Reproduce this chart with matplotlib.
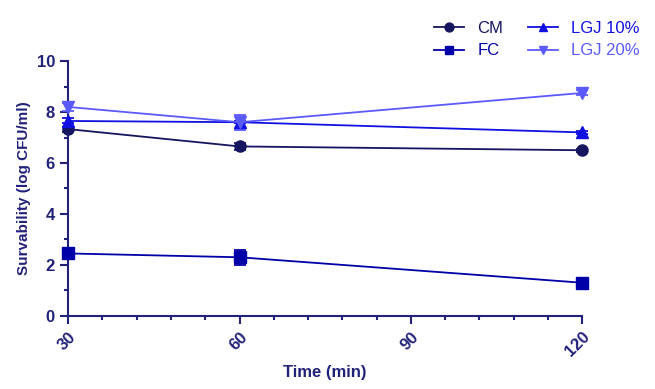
import matplotlib
matplotlib.use("Agg")
import matplotlib.pyplot as plt
from matplotlib.ticker import MultipleLocator

plt.rcParams['font.family'] = ['Liberation Sans', 'DejaVu Sans']

time = [30, 60, 120]
cm = [7.33, 6.65, 6.5]
cm_err = [0.1, 0.15, 0.05]
fc = [2.45, 2.3, 1.3]
fc_err = [0.1, 0.3, 0.05]
lgj10 = [7.65, 7.6, 7.2]
lgj10_err = [0.1, 0.05, 0.05]
lgj20 = [8.2, 7.6, 8.75]
lgj20_err = [0.15, 0.3, 0.1]

series = [
    ("CM", cm, cm_err, "#151560", "o", 8),
    ("FC", fc, fc_err, "#0000a8", "s", 8),
    ("LGJ 10%", lgj10, lgj10_err, "#1010e0", "^", 8),
    ("LGJ 20%", lgj20, lgj20_err, "#5a5aff", "v", 8),
]

axc = "#22227a"
fig = plt.figure(figsize=(6.55, 3.89), dpi=100)
ax = fig.add_axes([0.104, 0.188, 0.785, 0.655])
handles = []
for name, vals, err, col, mk, ms in series:
    h = ax.errorbar(time, vals, yerr=err, color=col, marker=mk, markersize=ms,
                    linewidth=1.3, capsize=4, elinewidth=1.3, capthick=1.3,
                    label=name, clip_on=False, zorder=3)
    handles.append(h[0])

ax.set_xlim(30, 120)
ax.set_ylim(0, 10)
ax.set_xticks([30, 60, 90, 120])
ax.xaxis.set_minor_locator(MultipleLocator(6))
ax.yaxis.set_major_locator(MultipleLocator(2))
ax.yaxis.set_minor_locator(MultipleLocator(1))
for s in ['top', 'right']:
    ax.spines[s].set_visible(False)
for s in ['left', 'bottom']:
    ax.spines[s].set_color(axc)
    ax.spines[s].set_linewidth(1.5)
ax.tick_params(axis='both', which='major', color=axc, width=1.5, length=6,
               labelcolor=axc, labelsize=12)
ax.tick_params(axis='both', which='minor', color=axc, width=1.5, length=3)
for lab in ax.get_xticklabels() + ax.get_yticklabels():
    lab.set_fontweight('bold')
for lab in ax.get_xticklabels():
    lab.set_rotation(45)
    lab.set_ha('right')
    lab.set_va('top')
    lab.set_rotation_mode('anchor')
ax.set_xlabel("Time (min)", color=axc, fontsize=12, fontweight='bold', labelpad=4)
ax.set_ylabel("Survability (log CFU/ml)", color=axc, fontsize=11, fontweight='bold')

leg = fig.legend(handles=handles, labels=[s[0] for s in series], ncol=2,
                 loc='upper right', bbox_to_anchor=(1.0, 0.985), frameon=False,
                 fontsize=12, handlelength=1.8, columnspacing=1.5, labelspacing=0.45,
                 markerscale=0.8)
for t, s in zip(leg.get_texts(), series):
    t.set_color(s[3])

fig.savefig("out.png", dpi=100)
